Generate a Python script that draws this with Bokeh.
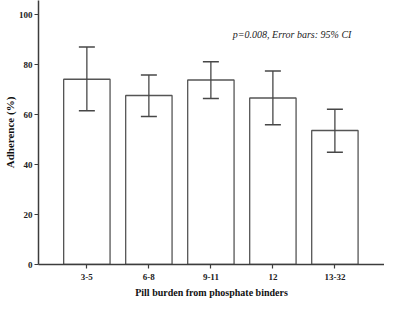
from bokeh.plotting import figure
from bokeh.models import Label, FixedTicker
from bokeh.embed import file_html
from bokeh.resources import INLINE

categories = ["3-5", "6-8", "9-11", "12", "13-32"]
adherence = [74.1, 67.6, 73.8, 66.6, 53.6]
ci_upper = [87.0, 75.8, 81.1, 77.4, 62.1]
ci_lower = [61.5, 59.2, 66.4, 55.9, 44.9]
y_ticks = [0, 20, 40, 60, 80, 100]

xs = list(range(len(categories)))
FONT = "Liberation Serif"
AX = "#3c3c3c"

p = figure(width=384, height=300, output_backend="svg", toolbar_location=None,
           x_range=(-0.78, 4.80), y_range=(0, 105.6),
           min_border_left=31, min_border_right=0, min_border_top=0, min_border_bottom=35)
p.outline_line_color = None
p.xgrid.visible = False
p.ygrid.visible = False
p.background_fill_color = "white"

p.vbar(x=xs, top=adherence, width=0.748, bottom=0, fill_color="white",
       line_color="#555555", line_width=1.3)

cap = 0.129
p.segment(x0=xs, y0=ci_lower, x1=xs, y1=ci_upper, line_color="#474747", line_width=1.3)
p.segment(x0=[x - cap for x in xs], y0=ci_upper, x1=[x + cap for x in xs], y1=ci_upper,
          line_color="#474747", line_width=1.3)
p.segment(x0=[x - cap for x in xs], y0=ci_lower, x1=[x + cap for x in xs], y1=ci_lower,
          line_color="#474747", line_width=1.3)

# x axis
p.xaxis.ticker = FixedTicker(ticks=xs)
p.xaxis.major_label_overrides = {i: c for i, c in enumerate(categories)}
p.xaxis.minor_tick_line_color = None
p.xaxis.major_tick_in = 0
p.xaxis.major_tick_out = 4
p.xaxis.major_label_standoff = 5
p.xaxis.axis_label = "Pill burden from phosphate binders"
p.xaxis.axis_label_standoff = 4

# y axis
p.yaxis.ticker = FixedTicker(ticks=y_ticks)
p.yaxis.minor_tick_line_color = None
p.yaxis.major_tick_in = 0
p.yaxis.major_tick_out = 4
p.yaxis.major_label_standoff = 2
p.yaxis.axis_label = "Adherence (%)"
p.yaxis.axis_label_standoff = 0

for ax in (p.xaxis, p.yaxis):
    ax.axis_line_color = AX
    ax.axis_line_width = 1.5
    ax.major_tick_line_color = AX
    ax.major_tick_line_width = 1.2
    ax.major_label_text_font = FONT
    ax.major_label_text_font_style = "bold"
    ax.major_label_text_font_size = "9px"
    ax.major_label_text_color = "#222222"
    ax.axis_label_text_font = FONT
    ax.axis_label_text_font_style = "bold"
    ax.axis_label_text_color = "#111111"

p.xaxis.axis_label_text_font_size = "10px"
p.yaxis.axis_label_text_font_size = "11px"

note = Label(x=3.31, y=91.9, text="p=0.008, Error bars: 95% CI",
             text_font=FONT, text_font_style="italic", text_font_size="10px",
             text_align="center", text_baseline="middle", text_color="#222222")
p.add_layout(note)

open("out.html", "w").write(file_html(p, INLINE))
